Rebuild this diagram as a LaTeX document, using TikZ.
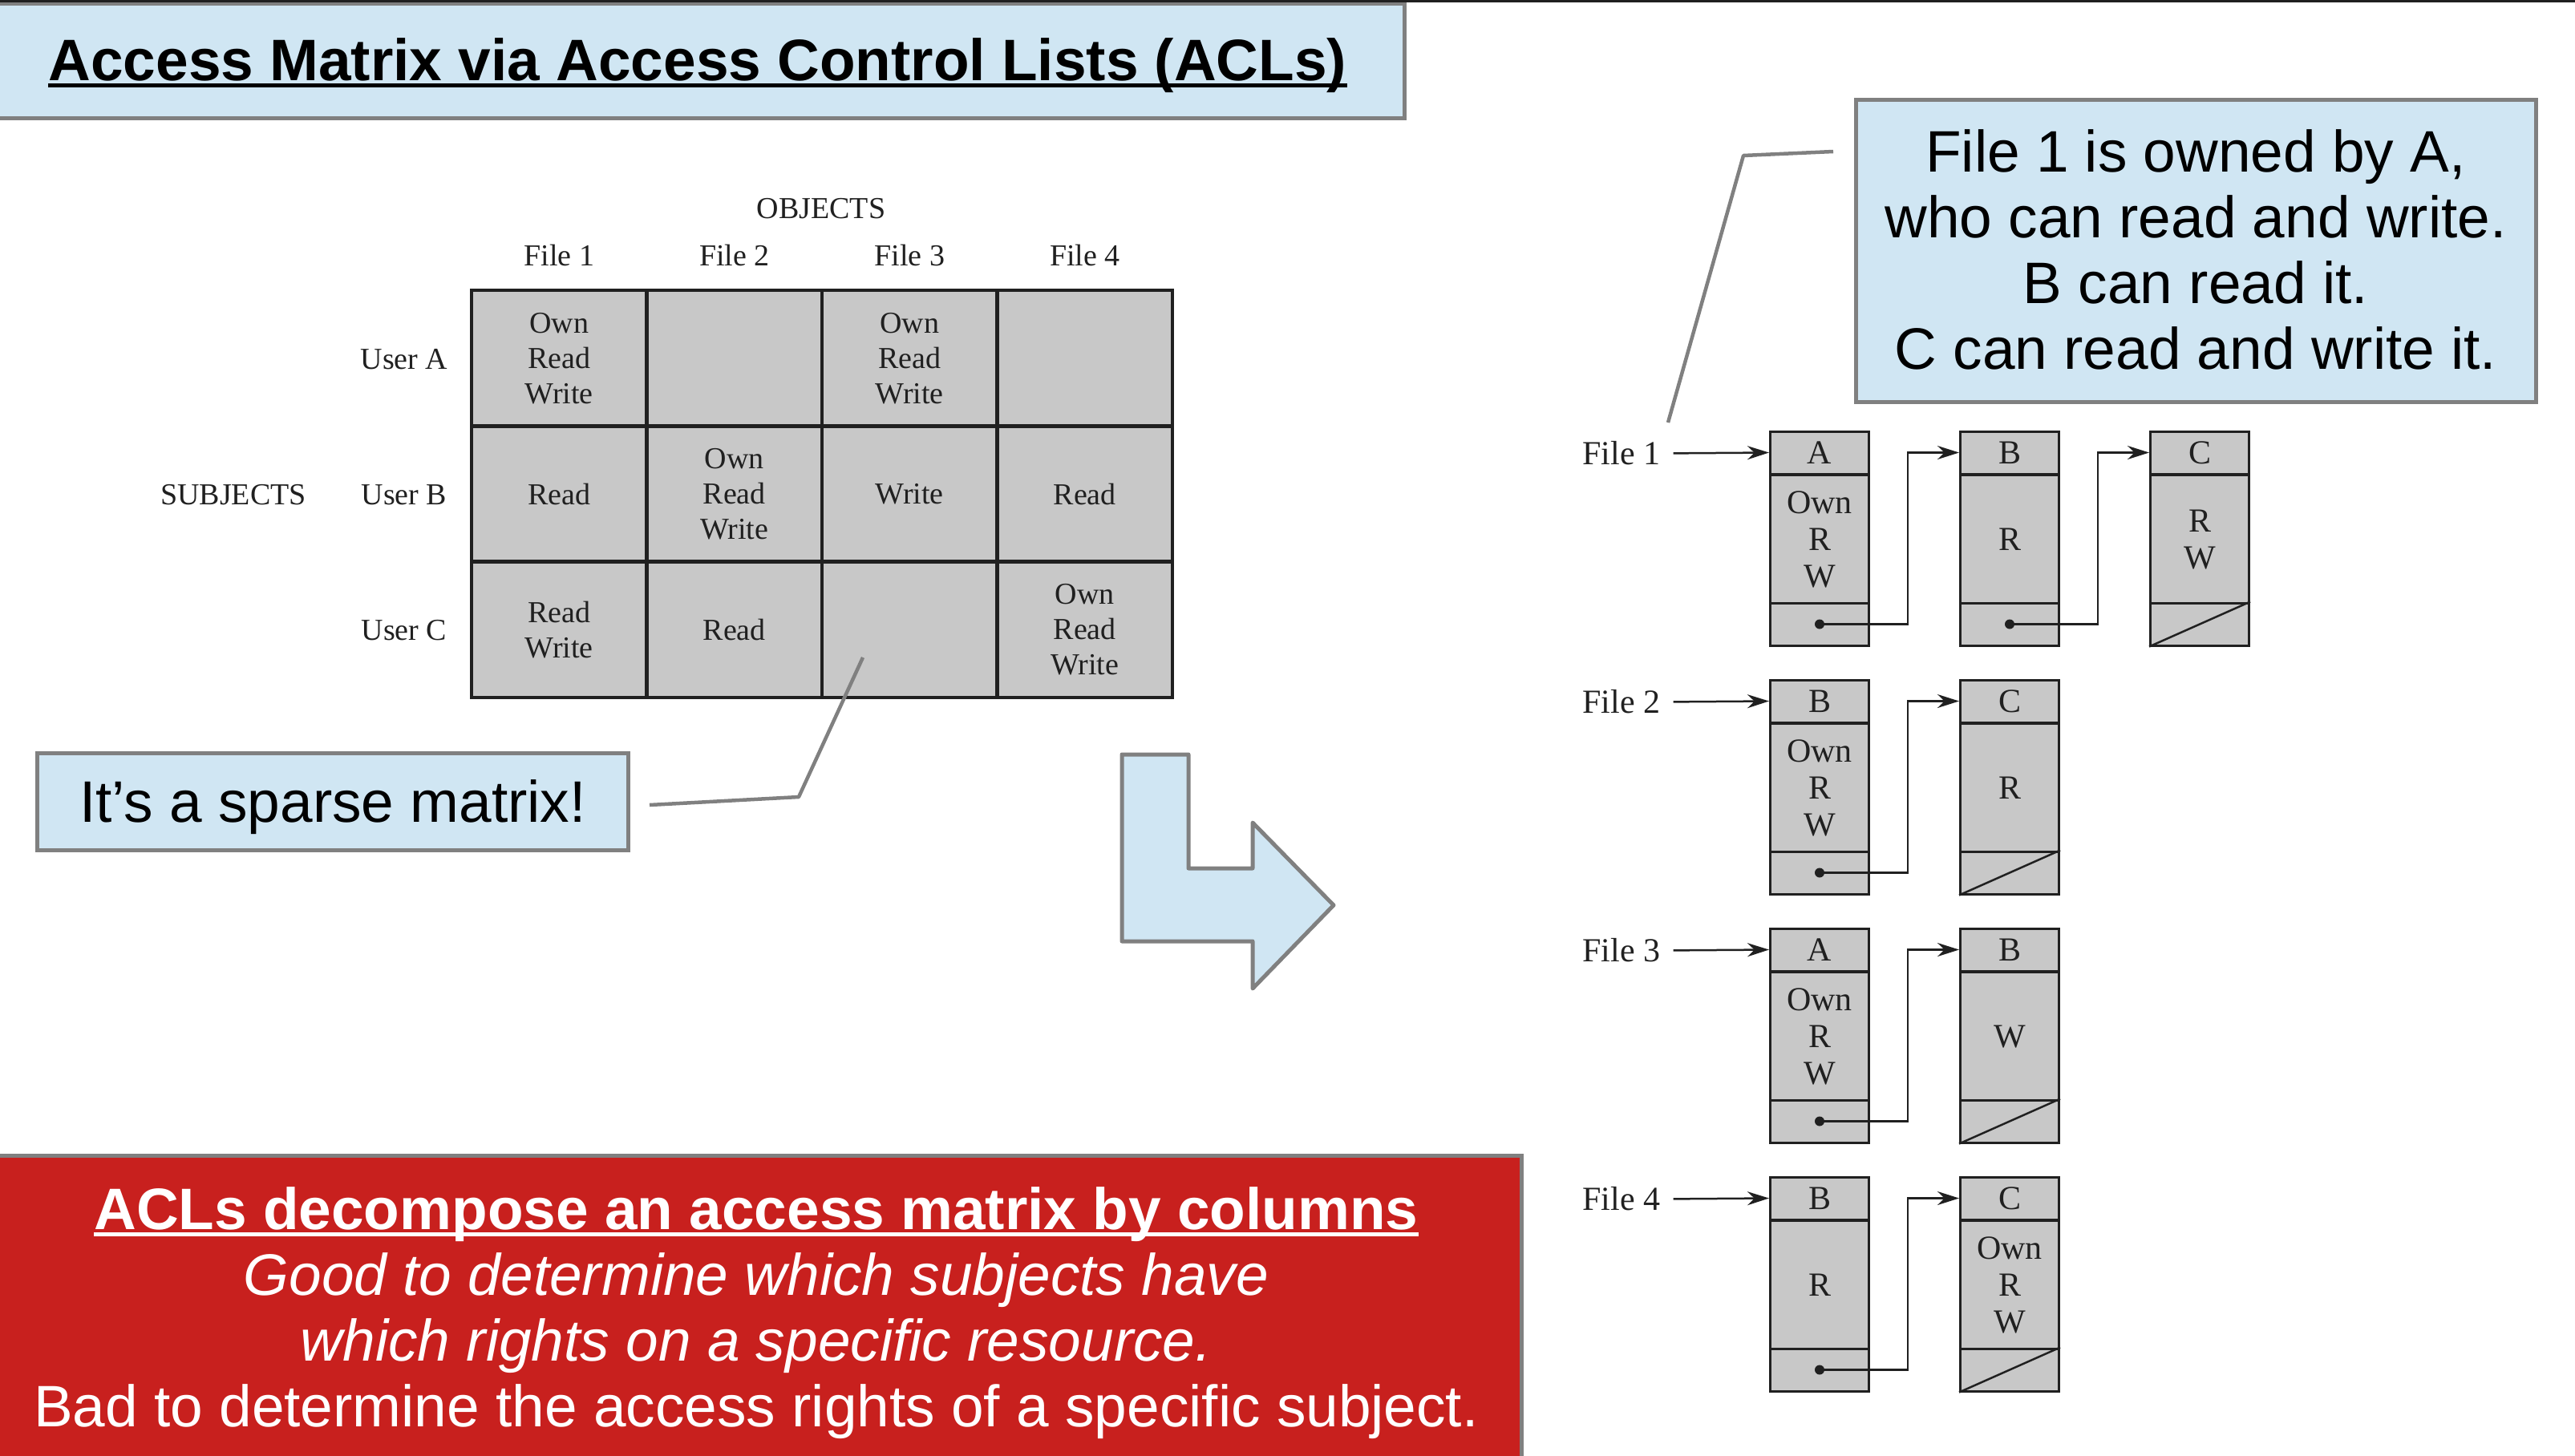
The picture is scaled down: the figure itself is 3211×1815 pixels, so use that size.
\documentclass[tikz,border=0pt]{standalone}
\usepackage{fontspec}
\setmainfont{Liberation Sans}
\newfontfamily\bookfont{Liberation Serif}
\usetikzlibrary{arrows.meta,calc}
\definecolor{paneblue}{RGB}{208,230,243}
\definecolor{panegray}{RGB}{128,128,128}
\definecolor{cellgray}{RGB}{200,200,200}
\definecolor{slidered}{RGB}{200,32,30}
\definecolor{ink}{RGB}{32,32,32}
\newcommand\slidefont{\fontsize{73bp}{82bp}\selectfont}
\newcommand\mtxfont{\bookfont\fontsize{38bp}{44bp}\selectfont}
\newcommand\aclfont{\bookfont\fontsize{42bp}{46bp}\selectfont}
\newcommand\aclentry[5]{%
  \node[aclpart, minimum height=53bp] (#1-h) at (#2,#3+26.5) {#4};
  \node[aclpart, minimum height=161bp] (#1-b) at (#2,#3+135) {#5};
  \node[aclpart, minimum height=53bp] (#1-f) at (#2,#3+240.5) {};}
\newcommand\aclnext[2]{%
  \draw[link] (#1-f.center) -- ($(#1-f.east)+(47,0)$) |- (#2-h.west);
  \fill[ink] (#1-f.center) circle [radius=6bp];}
\newcommand\aclnull[1]{\draw[wire] (#1-f.south west) -- (#1-f.north east);}
\begin{document}
\begin{tikzpicture}[x=1bp, y=-1bp,
  panel/.style={draw=panegray, line width=5bp, fill=paneblue},
  callout/.style={draw=panegray, line width=4.5bp, line join=round},
  cell/.style={draw=ink, line width=4.5bp, fill=cellgray, minimum width=218.5bp,
    minimum height=169.3bp, inner sep=0pt, align=center, font=\mtxfont, text=ink},
  mlabel/.style={inner sep=0pt, font=\mtxfont, text=ink},
  alabel/.style={inner sep=0pt, font=\aclfont, text=ink},
  aclpart/.style={draw=ink, line width=3bp, fill=cellgray, minimum width=123bp,
    inner sep=0pt, align=center, font=\aclfont, text=ink},
  link/.style={draw=ink, line width=2.5bp, -{Stealth[length=27bp,width=17bp]}},
  wire/.style={draw=ink, line width=2.5bp},
  slidetext/.style={anchor=base, inner sep=0pt, font=\slidefont},
]
\useasboundingbox (0,0) rectangle (3211,1815);

% ---------- title ----------
\node[panel, minimum width=1761bp, minimum height=143.5bp] (titlebox) at (870.5,75.75) {};
\draw[ink, line width=3bp] (0,1.5) -- (3211,1.5);
\node[slidetext, font=\bfseries\slidefont] (title) at (870,100) {Access Matrix via Access Control Lists (ACLs)};
\draw[black, line width=5bp] ($(title.base west)+(0,6)$) -- ($(title.base east)+(0,6)$);

% ---------- access matrix ----------
\node[mlabel] (objects) at (1024,260) {OBJECTS};
\node[mlabel] (hd1) at (697.3,318) {File 1};
\node[mlabel] (hd2) at (915.8,318) {File 2};
\node[mlabel] (hd3) at (1134.3,318) {File 3};
\node[mlabel] (hd4) at (1352.8,318) {File 4};
\node[mlabel] (subjects) at (291,617) {SUBJECTS};
\node[mlabel] (ua) at (504,448) {User A};
\node[mlabel] (ub) at (504,617) {User B};
\node[mlabel] (uc) at (504,786) {User C};

\node[cell] (a1) at (697.3,446.7) {Own\\Read\\Write};
\node[cell] (a2) at (915.8,446.7) {};
\node[cell] (a3) at (1134.3,446.7) {Own\\Read\\Write};
\node[cell] (a4) at (1352.8,446.7) {};
\node[cell] (b1) at (697.3,616) {Read};
\node[cell] (b2) at (915.8,616) {Own\\Read\\Write};
\node[cell] (b3) at (1134.3,616) {Write};
\node[cell] (b4) at (1352.8,616) {Read};
\node[cell] (c1) at (697.3,785.3) {Read\\Write};
\node[cell] (c2) at (915.8,785.3) {Read};
\node[cell] (c3) at (1134.3,785.3) {};
\node[cell] (c4) at (1352.8,785.3) {Own\\Read\\Write};

% ---------- sparse callout ----------
\node[panel, minimum width=736bp, minimum height=121bp, font=\slidefont,
  text height=52bp, text depth=0pt] (sparse) at (415,999.5) {It’s a sparse matrix!};
\coordinate (spA) at (810,1004);
\coordinate (spB) at (996,994);
\coordinate (spC) at (1076,820);
\draw[callout] (spA) -- (spB) -- (spC);

% ---------- bent arrow ----------
\draw[panel, line join=round] (1399,941) -- (1482,941) -- (1482,1083) -- (1562,1083)
  -- (1562,1026) -- (1663,1129) -- (1562,1233) -- (1562,1174) -- (1399,1174) -- cycle;

% ---------- conclusion panel ----------
\draw[draw=panegray, line width=5bp, fill=slidered] (-10,1441) rectangle (1897,1830);
\node[slidetext, text=white, font=\bfseries\slidefont] (concl1) at (943,1533) {ACLs decompose an access matrix by columns};
\draw[white, line width=5bp] ($(concl1.base west)+(0,6)$) -- ($(concl1.base east)+(0,6)$);
\node[slidetext, text=white, font=\itshape\slidefont] (concl2) at (943,1615) {Good to determine which subjects have};
\node[slidetext, text=white, font=\itshape\slidefont] (concl3) at (943,1697) {which rights on a specific resource.};
\node[slidetext, text=white] (concl4) at (943,1779) {Bad to determine the access rights of a specific subject.};

% ---------- note callout ----------
\node[panel, minimum width=848bp, minimum height=377bp] (note) at (2738,312.5) {};
\node[slidetext] (note1) at (2738,214) {File 1 is owned by A,};
\node[slidetext] (note2) at (2738,296) {who can read and write.};
\node[slidetext] (note3) at (2738,378) {B can read it.};
\node[slidetext] (note4) at (2738,460) {C can read and write it.};
\coordinate (ntA) at (2286,189);
\coordinate (ntB) at (2174,194);
\coordinate (ntC) at (2080,527);
\draw[callout] (ntA) -- (ntB) -- (ntC);

% ---------- access control lists ----------
\aclentry{f1a}{2269}{538}{A}{Own\\R\\W}
\aclentry{f1b}{2506}{538}{B}{R}
\aclentry{f1c}{2743}{538}{C}{R\\W}
\aclentry{f2a}{2269}{848}{B}{Own\\R\\W}
\aclentry{f2b}{2506}{848}{C}{R}
\aclentry{f3a}{2269}{1158}{A}{Own\\R\\W}
\aclentry{f3b}{2506}{1158}{B}{W}
\aclentry{f4a}{2269}{1468}{B}{R}
\aclentry{f4b}{2506}{1468}{C}{Own\\R\\W}

\node[alabel] (lab1) at (2022,565.5) {File 1};
\node[alabel] (lab2) at (2022,875.5) {File 2};
\node[alabel] (lab3) at (2022,1185.5) {File 3};
\node[alabel] (lab4) at (2022,1495.5) {File 4};
\draw[link, shorten <=16bp] (lab1.east) -- (f1a-h.west);
\draw[link, shorten <=16bp] (lab2.east) -- (f2a-h.west);
\draw[link, shorten <=16bp] (lab3.east) -- (f3a-h.west);
\draw[link, shorten <=16bp] (lab4.east) -- (f4a-h.west);

\aclnext{f1a}{f1b}
\aclnext{f1b}{f1c}
\aclnull{f1c}
\aclnext{f2a}{f2b}
\aclnull{f2b}
\aclnext{f3a}{f3b}
\aclnull{f3b}
\aclnext{f4a}{f4b}
\aclnull{f4b}
\end{tikzpicture}
\end{document}
